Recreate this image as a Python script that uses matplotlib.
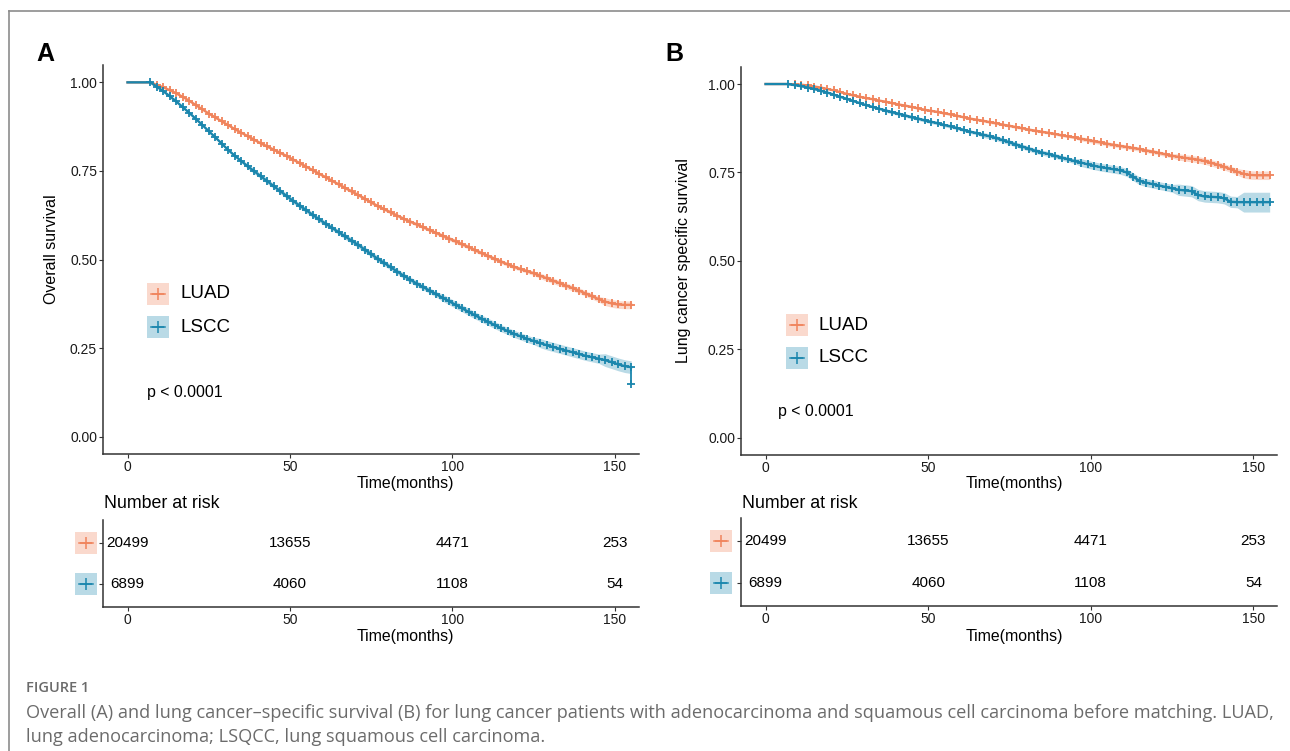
import numpy as np
import matplotlib
matplotlib.use('Agg')
import matplotlib.pyplot as plt
from matplotlib.patches import Rectangle
from matplotlib.lines import Line2D

plt.rcParams['font.family'] = ['Liberation Sans', 'DejaVu Sans']

# ---- data ----
groups = ['LUAD', 'LSCC']
colors = {'LUAD': '#F0845C', 'LSCC': '#1A86AD'}

# survival read every 2 months from month 7 to 155
months = np.arange(7, 156, 2)

os_luad = [1.000, 0.993, 0.986, 0.978, 0.969, 0.959, 0.948, 0.936, 0.924, 0.912,
           0.901, 0.890, 0.879, 0.868, 0.858, 0.848, 0.838, 0.828, 0.819, 0.810,
           0.801, 0.792, 0.782, 0.772, 0.762, 0.752, 0.742, 0.732, 0.722, 0.712,
           0.702, 0.692, 0.682, 0.672, 0.661, 0.651, 0.642, 0.633, 0.624, 0.615,
           0.607, 0.599, 0.591, 0.583, 0.575, 0.567, 0.559, 0.551, 0.543, 0.535,
           0.526, 0.518, 0.510, 0.502, 0.494, 0.486, 0.479, 0.473, 0.467, 0.461,
           0.454, 0.447, 0.440, 0.433, 0.426, 0.419, 0.412, 0.404, 0.396, 0.388,
           0.381, 0.376, 0.373, 0.372, 0.372]
os_lscc = [1.000, 0.988, 0.975, 0.961, 0.946, 0.930, 0.914, 0.897, 0.880, 0.862,
           0.845, 0.827, 0.809, 0.793, 0.778, 0.763, 0.749, 0.735, 0.721, 0.707,
           0.693, 0.679, 0.665, 0.652, 0.639, 0.626, 0.613, 0.601, 0.589, 0.577,
           0.565, 0.553, 0.541, 0.528, 0.515, 0.502, 0.490, 0.478, 0.466, 0.454,
           0.443, 0.432, 0.422, 0.412, 0.402, 0.392, 0.382, 0.372, 0.362, 0.352,
           0.342, 0.333, 0.324, 0.315, 0.306, 0.298, 0.290, 0.283, 0.276, 0.270,
           0.264, 0.258, 0.253, 0.248, 0.243, 0.238, 0.233, 0.228, 0.224, 0.220,
           0.216, 0.210, 0.204, 0.199, 0.196]
os_lscc_last = (155, 0.149)   # last event: drop at the end of follow-up
css_luad = [1.000, 0.999, 0.998, 0.996, 0.993, 0.990, 0.986, 0.982, 0.977, 0.972,
            0.968, 0.964, 0.960, 0.957, 0.953, 0.950, 0.946, 0.942, 0.939, 0.935,
            0.931, 0.927, 0.924, 0.921, 0.917, 0.914, 0.910, 0.906, 0.902, 0.899,
            0.896, 0.892, 0.889, 0.885, 0.882, 0.878, 0.875, 0.871, 0.868, 0.865,
            0.862, 0.859, 0.855, 0.852, 0.849, 0.845, 0.842, 0.838, 0.835, 0.831,
            0.828, 0.825, 0.822, 0.819, 0.816, 0.812, 0.809, 0.805, 0.801, 0.797,
            0.794, 0.791, 0.789, 0.786, 0.782, 0.777, 0.772, 0.766, 0.759, 0.752,
            0.746, 0.743, 0.742, 0.742, 0.742]
css_lscc = [1.000, 0.997, 0.994, 0.990, 0.986, 0.981, 0.976, 0.970, 0.964, 0.958,
            0.952, 0.946, 0.940, 0.935, 0.930, 0.925, 0.920, 0.916, 0.911, 0.906,
            0.902, 0.897, 0.893, 0.889, 0.884, 0.880, 0.875, 0.870, 0.865, 0.861,
            0.856, 0.852, 0.847, 0.841, 0.835, 0.829, 0.823, 0.817, 0.811, 0.806,
            0.802, 0.797, 0.792, 0.787, 0.782, 0.778, 0.773, 0.769, 0.765, 0.762,
            0.759, 0.756, 0.750, 0.738, 0.726, 0.721, 0.717, 0.713, 0.709, 0.705,
            0.701, 0.699, 0.697, 0.686, 0.682, 0.681, 0.680, 0.677, 0.667, 0.666,
            0.666, 0.666, 0.666, 0.666, 0.666]

# half-width of the 95% band, per stretch of the follow-up
ci_blocks = [15, 15, 15, 15, 10, 5]
os_luad_ci = np.repeat([0.002, 0.004, 0.005, 0.006, 0.008, 0.011], ci_blocks)
os_lscc_ci = np.repeat([0.004, 0.007, 0.008, 0.010, 0.013, 0.018], ci_blocks)
css_luad_ci = np.repeat([0.001, 0.003, 0.004, 0.006, 0.009, 0.012], ci_blocks)
css_lscc_ci = np.repeat([0.003, 0.005, 0.007, 0.011, 0.016, 0.028], ci_blocks)

risk_times = [0, 50, 100, 150]
at_risk = {'LUAD': [20499, 13655, 4471, 253],
           'LSCC': [6899, 4060, 1108, 54]}

caption_1 = ('Overall (A) and lung cancer\u2013specific survival (B) for lung cancer patients '
             'with adenocarcinoma and squamous cell carcinoma before matching. LUAD,')
caption_2 = 'lung adenocarcinoma; LSQCC, lung squamous cell carcinoma.'

W, H = 1290, 751
XLIM = (-7.55, 157.25)


def fx(px):
    return px / W


def fy(py):
    return 1 - py / H


def style_axes(ax):
    for s in ['top', 'right']:
        ax.spines[s].set_visible(False)
    for s in ['left', 'bottom']:
        ax.spines[s].set_color('#333333')
        ax.spines[s].set_linewidth(1.1)
    ax.tick_params(direction='out', length=2.8, width=0.8, color='#333333',
                   labelsize=10, labelcolor='#1a1a1a', pad=1.5)
    ax.set_xlim(*XLIM)
    ax.set_xticks(risk_times)


def draw_key(x0, yc, color, size=22):
    fig.add_artist(Rectangle((fx(x0), fy(yc + size / 2)), size / W, size / H,
                             transform=fig.transFigure, fc=color, alpha=0.3, lw=0))
    fig.add_artist(Line2D([fx(x0 + 4), fx(x0 + size - 4)], [fy(yc), fy(yc)],
                          transform=fig.transFigure, color=color, lw=1.1))
    fig.add_artist(Line2D([fx(x0 + size / 2)], [fy(yc)], transform=fig.transFigure,
                          color=color, marker='+', ms=8, mew=1.1, ls='none'))


fig = plt.figure(figsize=(W / 100, H / 100), dpi=100)

panels = [
    dict(left=103, right=638.5, top=65, bottom=454, label='A', label_x=45,
         ylabel='Overall survival', ylab_xy=(-0.097, 0.526), xlab_x=0.565,
         curves=[('LUAD', os_luad, os_luad_ci, None),
                 ('LSCC', os_lscc, os_lscc_ci, os_lscc_last)],
         key_x=147, key_y=(294, 327), p_xy=(0.082, 0.157),
         tab_top=520, tab_bottom=607.3, tab_key_x=75),
    dict(left=741, right=1277, top=66.7, bottom=455, label='B', label_x=674,
         ylabel='Lung cancer specific survival', ylab_xy=(-0.107, 0.5), xlab_x=0.51,
         curves=[('LUAD', css_luad, css_luad_ci, None),
                 ('LSCC', css_lscc, css_lscc_ci, None)],
         key_x=786, key_y=(325, 358), p_xy=(0.069, 0.111),
         tab_top=518, tab_bottom=606, tab_key_x=710),
]

for p in panels:
    ax = fig.add_axes([fx(p['left']), fy(p['bottom']),
                       (p['right'] - p['left']) / W, (p['bottom'] - p['top']) / H])
    style_axes(ax)
    for name, surv, ci, last in p['curves']:
        c = colors[name]
        s = np.asarray(surv)
        ax.fill_between(months, s - ci, s + ci, color=c, alpha=0.3, lw=0)
        ax.plot(np.r_[0, months], np.r_[1.0, s], color=c, lw=1.7)
        ax.plot(months[1:], s[1:], ls='none', marker='+', ms=6, mew=1.3, color=c)
        if last is not None:
            ax.plot([last[0], last[0]], [s[-1], last[1]], color=c, lw=1.3)
            ax.plot(*last, ls='none', marker='+', ms=6, mew=1.3, color=c)
    # both curves start together at 100%; the later (blue) one sits on top
    ax.plot(months[:1], [1.0], ls='none', marker='+', ms=6, mew=1.3,
            color=colors['LSCC'])
    ax.set_ylim(-0.049, 1.049)
    ax.set_yticks([0, 0.25, 0.5, 0.75, 1.0])
    ax.set_yticklabels(['0.00', '0.25', '0.50', '0.75', '1.00'])
    ax.set_xlabel('Time(months)', fontsize=11.4)
    ax.xaxis.set_label_coords(p['xlab_x'], -0.0746)
    ax.xaxis.label.set_va('center')
    ax.set_ylabel(p['ylabel'], fontsize=11.5)
    ax.yaxis.set_label_coords(*p['ylab_xy'])
    ax.yaxis.label.set_va('center')
    ax.text(*p['p_xy'], 'p < 0.0001', transform=ax.transAxes, fontsize=11.4,
            va='center', ha='left')

    for name, yc in zip(groups, p['key_y']):
        draw_key(p['key_x'], yc, colors[name])
        fig.text(fx(p['key_x'] + 33), fy(yc), name, fontsize=13.5, va='center')

    fig.text(fx(p['label_x']), fy(54), p['label'], fontsize=18, weight='bold',
             ha='center', va='center')

    # number at risk table
    tab = fig.add_axes([fx(p['left']), fy(p['tab_bottom']),
                        (p['right'] - p['left']) / W,
                        (p['tab_bottom'] - p['tab_top']) / H])
    style_axes(tab)
    tab.set_ylim(0.43, 2.57)
    tab.set_yticks([2, 1])
    tab.set_yticklabels(['', ''])
    for row, name in zip([2, 1], groups):
        for t, n in zip(risk_times, at_risk[name]):
            tab.text(t, row, str(n), ha='center', va='center', fontsize=11)
    tab.set_xlabel('Time(months)', fontsize=11.4)
    tab.xaxis.set_label_coords(p['xlab_x'], -(637 - p['tab_bottom']) /
                               (p['tab_bottom'] - p['tab_top']))
    tab.xaxis.label.set_va('center')
    fig.text(fx(p['left'] + 1), fy(503), 'Number at risk', fontsize=12.8, va='center')
    row_px = (p['tab_top'] + (p['tab_bottom'] - p['tab_top']) * 0.57 / 2.14,
              p['tab_top'] + (p['tab_bottom'] - p['tab_top']) * 1.57 / 2.14)
    for name, yc in zip(groups, row_px):
        draw_key(p['tab_key_x'], yc, colors[name])

# page frame and caption
fig.add_artist(Line2D([fx(9), 1], [fy(11), fy(11)], transform=fig.transFigure,
                      color='#8c8c8c', lw=1.2))
fig.add_artist(Line2D([fx(9), fx(9)], [fy(11), 0], transform=fig.transFigure,
                      color='#8c8c8c', lw=1.2))
cap = dict(family=['Open Sans', 'DejaVu Sans'], color='#6b6b6b', va='center')
fig.text(fx(26), fy(687.5), 'FIGURE 1', fontsize=10.5, weight='semibold', **cap)
fig.text(fx(26), fy(713), caption_1, fontsize=13.1, **cap)
fig.text(fx(26), fy(737), caption_2, fontsize=13.1, **cap)

fig.savefig('out.png', dpi=100)
